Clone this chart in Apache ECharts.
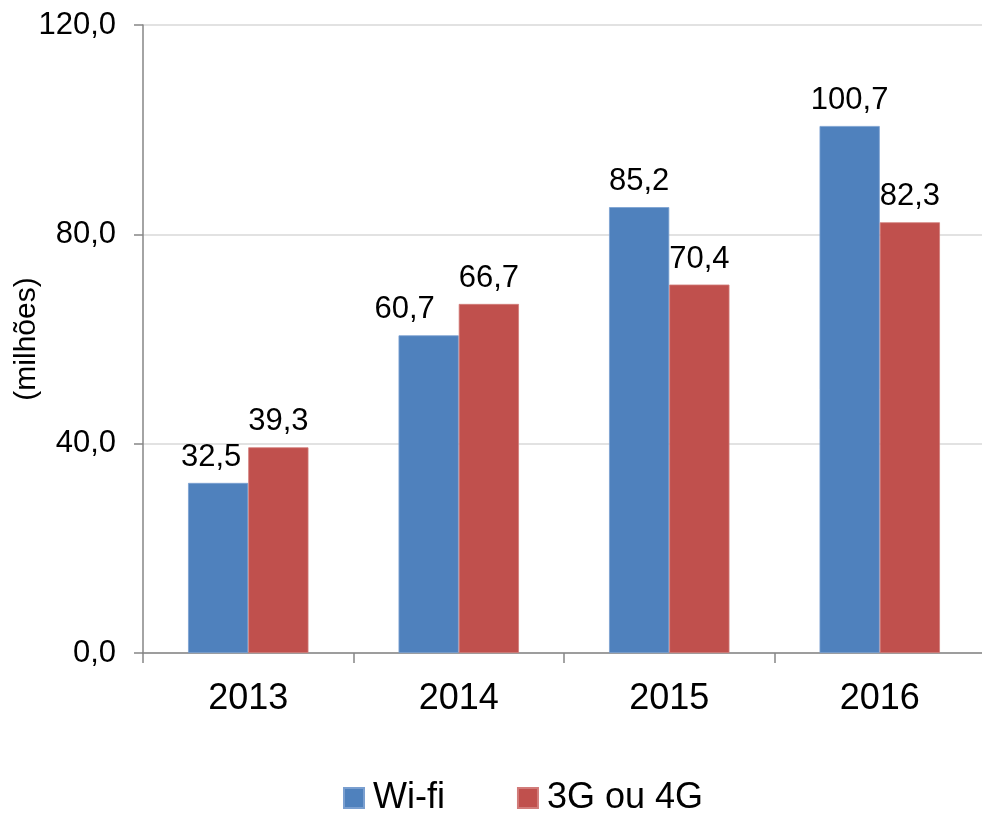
<!DOCTYPE html>
<html><head><meta charset="utf-8">
<script src="https://cdn.jsdelivr.net/npm/echarts@6/dist/echarts.min.js"></script>
<style>html,body{margin:0;padding:0;background:#fff}#c{width:982px;height:814px}</style>
</head><body><div id="c"></div>
<script>
const categories = ['2013','2014','2015','2016'];
const wifi = [32.5, 60.7, 85.2, 100.7];
const mobile = [39.3, 66.7, 70.4, 82.3];
const yTicks = [0, 40, 80, 120];
const fmt = v => v.toFixed(1).replace('.', ',');
const chart = echarts.init(document.getElementById('c'));
const font = 'Liberation Sans, Arial, sans-serif';
// horizontal nudges of some wifi labels (as in the original, to avoid overlap)
const wifiLabelNudge = [-7, -24, 0, 0];
chart.setOption({
  animation: false,
  textStyle: {fontFamily: font},
  grid: {left: 143, top: 25, width: 842, bottom: 161, containLabel: false, outerBoundsMode: 'none'},
  legend: {
    top: 780, left: 343, padding: 0, itemWidth: 20, itemHeight: 20, itemGap: 72,
    icon: 'rect',
    textStyle: {fontSize: 36, color: '#000', fontFamily: font, padding: [0, 0, 0, 4]},
    data: ['Wi-fi', '3G ou 4G']
  },
  xAxis: {
    type: 'category', data: categories,
    axisLine: {lineStyle: {color: '#868686', width: 1.5}},
    axisTick: {show: true, length: 10, lineStyle: {color: '#868686', width: 1.5}},
    axisLabel: {fontSize: 36, color: '#000', margin: 28, fontFamily: font}
  },
  yAxis: {
    type: 'value', min: 0, max: 120, interval: 40,
    name: '(milhões)', nameLocation: 'middle', nameGap: 101, nameRotate: 90,
    nameMoveOverlap: false,
    nameTextStyle: {fontSize: 30, color: '#000', fontFamily: font},
    axisLine: {show: true, lineStyle: {color: '#868686', width: 1.5}},
    axisTick: {show: true, length: 9, lineStyle: {color: '#868686', width: 1.5}},
    axisLabel: {fontSize: 31, color: '#000', margin: 27, fontFamily: font,
      formatter: v => yTicks.includes(v) ? fmt(v) : ''},
    splitLine: {lineStyle: {color: '#d9d9d9', width: 1.5}}
  },
  series: [
    {name: 'Wi-fi', type: 'bar', barWidth: '28.6%', barGap: '0%',
     data: wifi.map((v, i) => ({value: v, label: {offset: [wifiLabelNudge[i], 0]}})),
     itemStyle: {color: '#4F81BD', borderColor: '#7a9fd0', borderWidth: 0.8},
     label: {show: true, position: 'top', distance: 10, fontSize: 31, color: '#000',
       fontFamily: font, formatter: p => fmt(p.value)}},
    {name: '3G ou 4G', type: 'bar', data: mobile, barWidth: '28.6%', barGap: '0%',
     itemStyle: {color: '#C0504D', borderColor: '#d27c7a', borderWidth: 0.8},
     label: {show: true, position: 'top', distance: 10, fontSize: 31, color: '#000',
       fontFamily: font, formatter: p => fmt(p.value)}}
  ]
});
</script></body></html>
